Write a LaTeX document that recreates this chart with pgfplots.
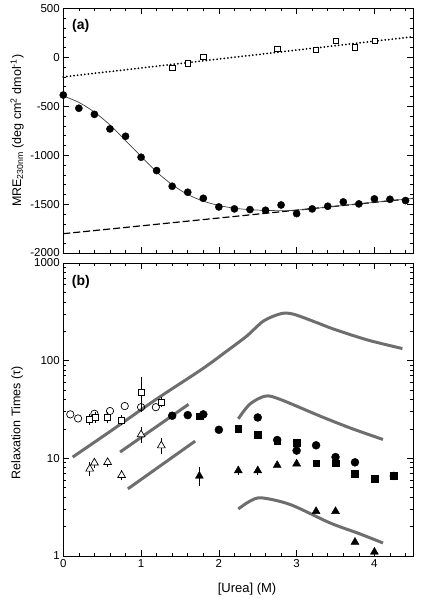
\documentclass[border=0pt]{standalone}
\usepackage{fontspec}
\setmainfont{Liberation Sans}
\usepackage{pgfplots}
\pgfplotsset{compat=1.18}
\definecolor{fitgray}{RGB}{110,110,110}
\begin{document}
\begin{tikzpicture}[x=1pt,y=1pt]
\path[use as bounding box] (0,0) rectangle (424,601);
\pgfplotsset{
  every axis/.append style={
    scale only axis,
    width=350pt,
    xmin=0, xmax=4.5,
    xtick={0,1,2,3,4},
    minor xtick={0.2,0.4,0.6,0.8,1.2,1.4,1.6,1.8,2.2,2.4,2.6,2.8,3.2,3.4,3.6,3.8,4.2,4.4},
    tick align=inside,
    major tick length=6pt,
    minor tick length=3pt,
    every tick/.style={black, line width=0.7pt},
    axis line style={line width=0.8pt},
    tick label style={font=\fontsize{11.5}{13}\selectfont},
    label style={font=\fontsize{12.5}{14}\selectfont},
    clip=false,
  }
}
% ---------- panel (a)
\begin{axis}[
  at={(63.3pt,347.7pt)}, anchor=south west,
  height=245pt,
  ymin=-2000, ymax=500,
  ytick={-2000,-1500,-1000,-500,0,500},
  yticklabels={\raisebox{2pt}{-2000},-1500,-1000,-500,0,500},
  minor ytick={-1900,-1800,-1700,-1600,-1400,-1300,-1200,-1100,-900,-800,-700,-600,-400,-300,-200,-100,100,200,300,400},
  xticklabels={},
  ylabel={MRE\textsubscript{230nm} (deg cm\textsuperscript{2} dmol\textsuperscript{-1})},
  ylabel style={at={(axis description cs:-0.132,0.5)}, anchor=center},
]
\addplot[black, line width=2pt, line cap=round, dash pattern=on 0pt off 3.6pt] coordinates {(0,-200) (4.5,210)};
\addplot[black, line width=1.2pt, dash pattern=on 7pt off 3pt] coordinates {(0,-1800) (4.5,-1440)};
\addplot[black!75, line width=0.7pt, smooth] coordinates {
(0,-395) (0.2,-460) (0.4,-560) (0.6,-690) (0.8,-850) (1.0,-1010) (1.2,-1170) (1.4,-1300) (1.6,-1400) (1.8,-1468) (2.0,-1512) (2.2,-1540) (2.4,-1555) (2.6,-1562) (2.8,-1565) (3.0,-1560) (3.5,-1520) (4.0,-1480) (4.5,-1440)};
\addplot[only marks, mark=*, mark size=3.6pt, black] coordinates {
(0,-385) (0.2,-520) (0.4,-582) (0.6,-731) (0.8,-806) (1.0,-1020) (1.2,-1156) (1.4,-1316) (1.6,-1377) (1.8,-1439) (2.0,-1527) (2.2,-1547) (2.4,-1554) (2.6,-1561) (2.8,-1507) (3.0,-1595) (3.2,-1547) (3.4,-1520) (3.6,-1476) (3.8,-1496) (4.0,-1445) (4.2,-1449) (4.4,-1462)};
\addplot[only marks, mark=square*, mark size=2.6pt, black, line width=0.5pt, mark options={fill=white}] coordinates {
(1.4,-105) (1.6,-61) (1.8,7) (2.75,85) (3.25,75) (3.5,170) (3.75,102) (4.0,170)};
\node[font=\bfseries\fontsize{14}{16}\selectfont] at (axis description cs:0.05,0.93) {(a)};
\end{axis}
% ---------- panel (b)
\begin{axis}[
  at={(63.3pt,45pt)}, anchor=south west,
  height=293pt,
  ymode=log,
  ymin=1, ymax=1000,
  ytick={1,10,100,1000},
  yticklabels={1,10,100,\raisebox{-2pt}{1000}},
  minor ytick={2,3,4,5,6,7,8,9,20,30,40,50,60,70,80,90,200,300,400,500,600,700,800,900},
  xticklabels={0,1,2,3,4},
  ylabel={Relaxation Times (τ)},
  ylabel style={at={(axis description cs:-0.132,0.454)}, anchor=center},
  xlabel={[Urea] (M)},
  xlabel style={at={(axis description cs:0.525,-0.113)}, anchor=center, font=\fontsize{13}{15}\selectfont},
  error bars/error bar style={line width=0.6pt, black},
  error bars/error mark options={black, mark size=3pt, line width=0.6pt},
]
% gray simulated curves
\addplot[fitgray, line width=3pt, smooth, tension=0.5] coordinates {
(0.12,10.3) (0.6,18.8) (1.2,40.5) (1.78,81.5) (2.1,125) (2.36,179) (2.575,255) (2.8,303) (2.96,299) (3.26,245) (3.48,210) (3.91,163) (4.36,133)};
\addplot[fitgray, line width=3pt, smooth, tension=0.5] coordinates {
(2.25,25.4) (2.4,36) (2.6,43.4) (2.79,40.1) (3.3,27.1) (3.7,20.3) (4.11,15.6)};
\addplot[fitgray, line width=3pt, smooth, tension=0.5] coordinates {
(2.25,3.03) (2.4,3.65) (2.55,3.94) (2.92,3.36) (3.43,2.18) (3.8,1.7) (4.11,1.36)};
\addplot[fitgray, line width=3pt] coordinates {(0.73,11.6) (1.61,35.7)};
\addplot[fitgray, line width=3pt] coordinates {(0.83,4.87) (1.695,15.0)};
% open circles
\addplot[only marks, mark=o, mark size=3.7pt, black, line width=0.7pt] coordinates {
(0.09,28.2) (0.19,25.6) (0.4,28.6) (0.6,30.5) (0.79,34.3) (1.0,33.4) (1.19,33.4)};
% open squares
\addplot[only marks, mark=square*, mark size=3pt, black, line width=0.7pt, mark options={fill=white},
  error bars/.cd, y dir=both, y explicit] coordinates {
(0.34,25) +- (0,1.5)
(0.41,26.4) +- (0,1.5)
(0.57,26) +- (0,1.5)
(0.75,24.6) +- (0,1.2)
(1.0,47.7) +- (0,16)
(1.26,37.7) +- (0,2)};
% open triangles
\addplot[only marks, mark=triangle*, mark size=4.5pt, black, line width=0.7pt, mark options={fill=white},
  error bars/.cd, y dir=both, y explicit] coordinates {
(0.34,7.8) +- (0,0.7)
(0.40,9.0) +- (0,0.5)
(0.57,9.1) +- (0,0.3)
(0.75,6.7) +- (0,0.3)
(1.0,17.5) +- (0,2)
(1.26,13.5) +- (0,1.5)};
% filled squares
\addplot[only marks, mark=square*, mark size=3.3pt, black] coordinates {
(1.75,26.9) (2.25,20.1) (2.5,17.4) (2.75,15.0) (3.0,14.4) (3.25,8.9) (3.5,8.9) (3.75,7.0) (4.0,6.2) (4.25,6.6)};
% filled circles
\addplot[only marks, mark=*, mark size=4pt, black] coordinates {
(1.4,27.3) (1.6,27.7) (1.8,28.2) (2.0,19.6) (2.5,26.2) (2.75,15.4) (3.0,12.0) (3.25,13.6) (3.5,10.3) (3.75,9.1) (4.25,6.6)};
% filled triangles
\addplot[only marks, mark=triangle*, mark size=4.6pt, black,
  error bars/.cd, y dir=both, y explicit] coordinates {
(1.75,6.6) +- (0,0.95)
(2.25,7.5) +- (0,0.25)
(2.5,7.5) +- (0,0.25)};
\addplot[only marks, mark=triangle*, mark size=4.6pt, black] coordinates {
(2.75,8.5) (3.0,8.8) (3.25,2.87) (3.5,2.87) (3.75,1.39) (4.0,1.1)};
\node[font=\bfseries\fontsize{14}{16}\selectfont] at (axis description cs:0.05,0.935) {(b)};
\end{axis}
\end{tikzpicture}
\end{document}
